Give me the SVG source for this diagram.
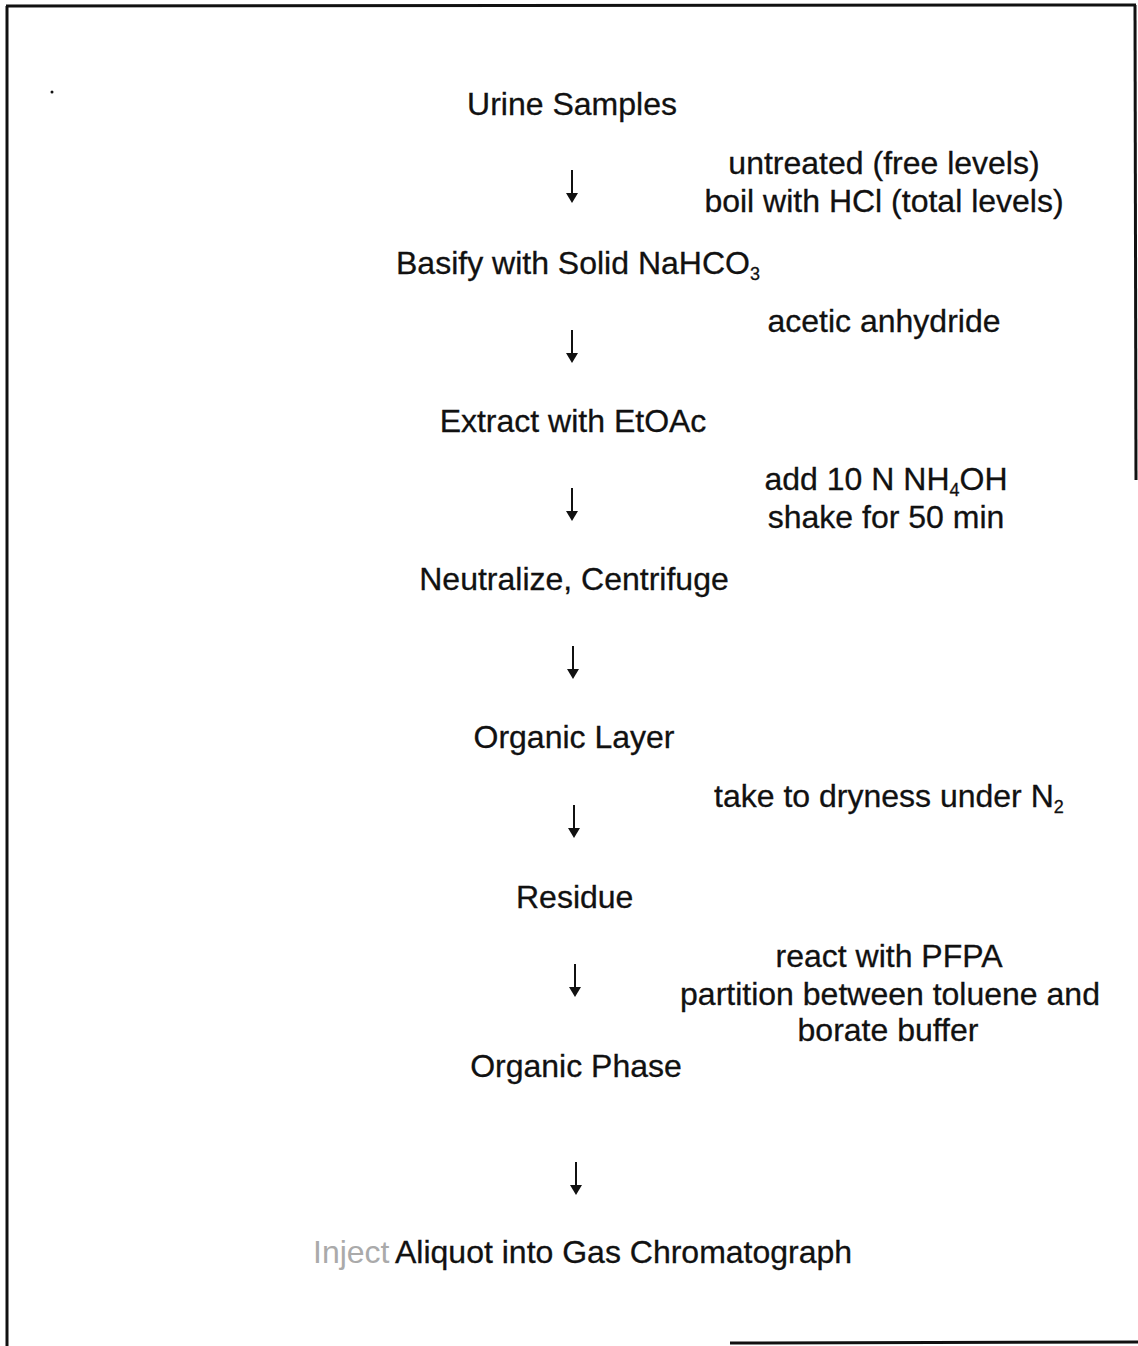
<svg xmlns="http://www.w3.org/2000/svg" width="1138" height="1346" viewBox="0 0 1138 1346">
<style>
text{font-family:"Liberation Sans",Arial,sans-serif;font-size:32px;fill:#111;stroke:#111;stroke-width:0.3}
.c{text-anchor:middle}
.sub{font-size:18px}
.frame{stroke:#111;stroke-width:3;fill:none}
</style>
<defs>
<g id="arrow">
<line x1="0" y1="0" x2="0" y2="26" stroke="#111" stroke-width="2"/>
<path d="M-6,23 L6,23 L0,33 Z" fill="#111"/>
</g>
</defs>
<rect width="1138" height="1346" fill="#fff"/>
<g id="frame">
<line class="frame" x1="7" y1="6" x2="7" y2="1346"/>
<line class="frame" x1="6" y1="6" x2="1136" y2="5"/>
<line class="frame" x1="1135" y1="5" x2="1136" y2="480"/>
<line class="frame" x1="730" y1="1343" x2="1138" y2="1342"/>
<circle cx="52" cy="92" r="1.5" fill="#111"/>
</g>
<g id="connectors">
<use href="#arrow" x="572" y="170"/>
<use href="#arrow" x="572" y="330"/>
<use href="#arrow" x="572" y="488"/>
<use href="#arrow" x="573" y="646"/>
<use href="#arrow" x="574" y="805"/>
<use href="#arrow" x="575" y="964"/>
<use href="#arrow" x="576" y="1162"/>
</g>
<g id="n1"><text class="c" x="572" y="115">Urine Samples</text></g>
<g id="l1"><text class="c" x="884" y="174">untreated (free levels)</text><text class="c" x="884" y="212">boil with HCl (total levels)</text></g>
<g id="n2"><text x="396" y="274">Basify with Solid NaHCO<tspan class="sub" dy="6">3</tspan></text></g>
<g id="l2"><text class="c" x="884" y="332">acetic anhydride</text></g>
<g id="n3"><text class="c" x="573" y="432">Extract with EtOAc</text></g>
<g id="l3"><text class="c" x="886" y="490">add 10 N NH<tspan class="sub" dy="6">4</tspan><tspan dy="-6">OH</tspan></text><text class="c" x="886" y="528">shake for 50 min</text></g>
<g id="n4"><text class="c" x="574" y="590">Neutralize, Centrifuge</text></g>
<g id="n5"><text class="c" x="574" y="748">Organic Layer</text></g>
<g id="l5"><text x="714" y="807">take to dryness under N<tspan class="sub" dy="6">2</tspan></text></g>
<g id="n6"><text x="516" y="908">Residue</text></g>
<g id="l6"><text class="c" x="889" y="967">react with PFPA</text><text class="c" x="890" y="1005">partition between toluene and</text><text class="c" x="888" y="1041">borate buffer</text></g>
<g id="n7"><text class="c" x="576" y="1077">Organic Phase</text></g>
<g id="n8"><text x="313" y="1263" fill="#aaa" stroke="none" font-size="28" style="fill:#aaa;stroke:none">Inject</text><text x="395" y="1263">Aliquot into Gas Chromatograph</text></g>
</svg>
